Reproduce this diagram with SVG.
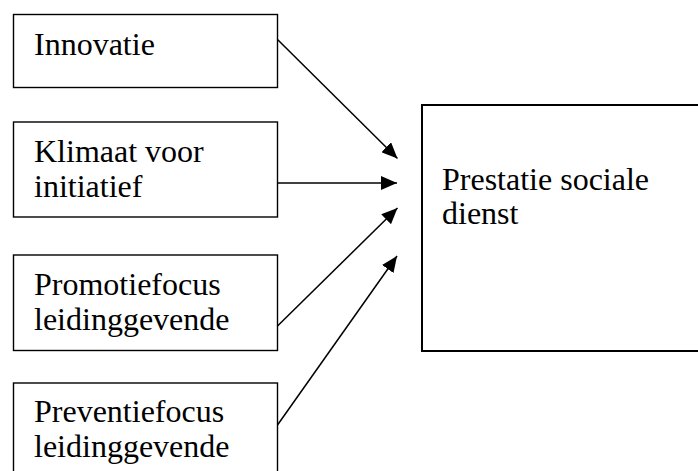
<svg xmlns="http://www.w3.org/2000/svg" width="698" height="471" viewBox="0 0 698 471">
  <style>
    .box { fill: #ffffff; stroke: #000000; stroke-width: 1.4; }
    .big { fill: #ffffff; stroke: #000000; stroke-width: 2; }
    .lbl { font-family: "Liberation Serif", "Times New Roman", serif; font-size: 32px; fill: #000000; }
    .conn { stroke: #000000; stroke-width: 1.5; fill: none; marker-end: url(#arrow); }
  </style>
  <defs>
    <marker id="arrow" markerUnits="userSpaceOnUse" markerWidth="16" markerHeight="14" refX="16" refY="7" orient="auto">
      <path d="M0,0 L16,7 L0,14 Z" fill="#000000"/>
    </marker>
  </defs>
  <rect width="698" height="471" fill="#ffffff"/>

  <g id="innovatie">
    <rect class="box" x="13.5" y="14.5" width="264" height="73"/>
    <text class="lbl" x="34" y="55">Innovatie</text>
  </g>
  <g id="klimaat">
    <rect class="box" x="13.5" y="122" width="264" height="95"/>
    <text class="lbl" x="34" y="162">Klimaat voor</text>
    <text class="lbl" x="34" y="197">initiatief</text>
  </g>
  <g id="promotiefocus">
    <rect class="box" x="13.5" y="255" width="264" height="95.5"/>
    <text class="lbl" x="34" y="295">Promotiefocus</text>
    <text class="lbl" x="34" y="330">leidinggevende</text>
  </g>
  <g id="preventiefocus">
    <rect class="box" x="13.5" y="383" width="264" height="100"/>
    <text class="lbl" x="34" y="422">Preventiefocus</text>
    <text class="lbl" x="34" y="457">leidinggevende</text>
  </g>
  <g id="prestatie">
    <rect class="big" x="422" y="105" width="290" height="246"/>
    <text class="lbl" x="442" y="190">Prestatie sociale</text>
    <text class="lbl" x="442" y="224">dienst</text>
  </g>

  <g id="connectors">
    <line class="conn" x1="277.5" y1="39.5" x2="397.5" y2="158.5"/>
    <line class="conn" x1="277.5" y1="183" x2="397" y2="183"/>
    <line class="conn" x1="277.5" y1="326" x2="397.5" y2="208"/>
    <line class="conn" x1="277.5" y1="425" x2="397" y2="256"/>
  </g>
</svg>
